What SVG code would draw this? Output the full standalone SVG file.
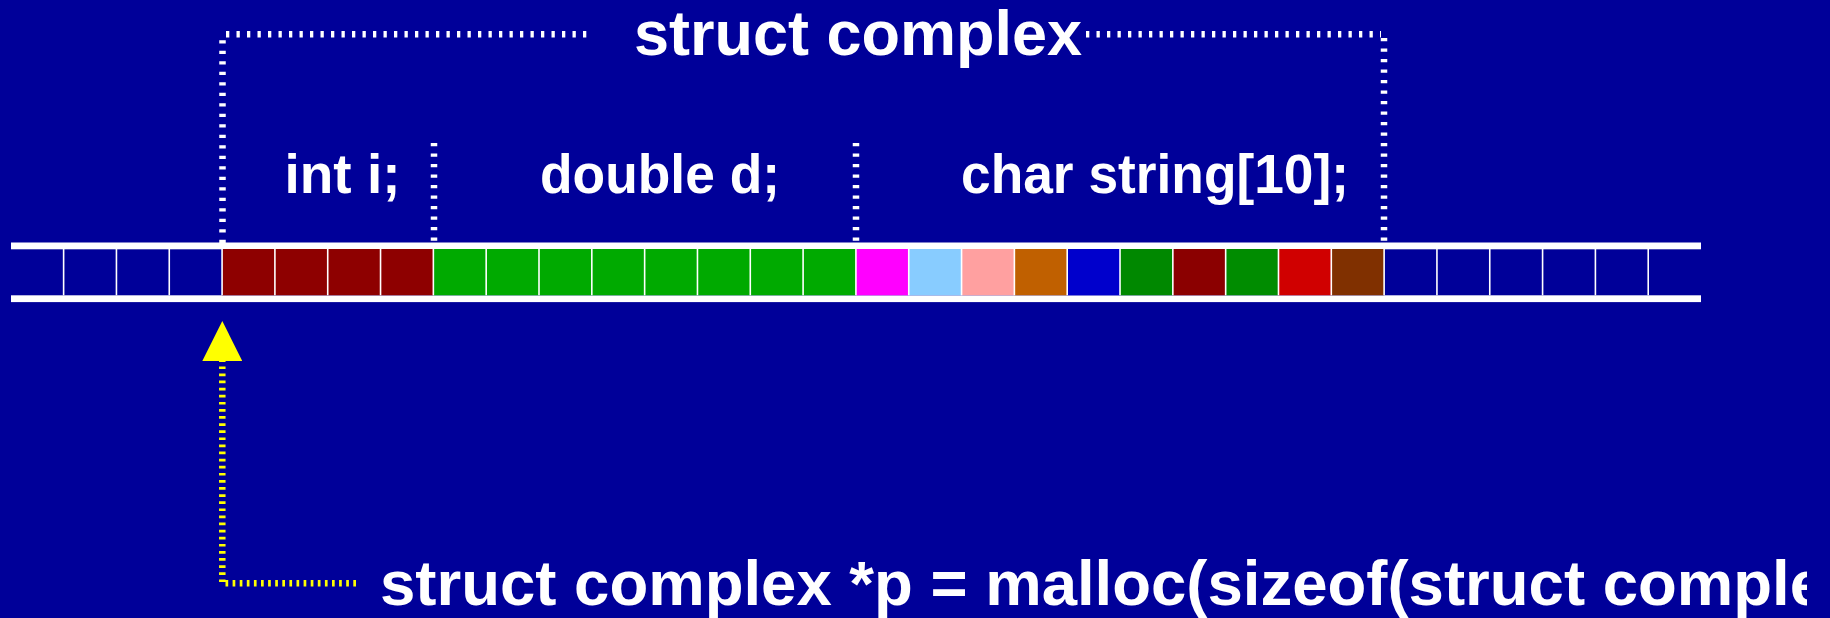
<svg xmlns="http://www.w3.org/2000/svg" width="1830" height="618" viewBox="0 0 1830 618">
  <style>
    .txt { font-family: "Liberation Sans", Arial, Helvetica, sans-serif; font-weight: bold; fill: #ffffff; }
    .title { font-size: 63px; }
    .field { font-size: 55px; }
    .code { font-size: 63.5px; }
    .bar { fill: #ffffff; }
    .sep { stroke: #ffffff; stroke-width: 1.6; }
    .wdot { fill: none; stroke: #ffffff; stroke-width: 6.5; stroke-dasharray: 3.3 7.2; }
    .ydot { fill: none; stroke: #ffff00; stroke-width: 6.5; stroke-dasharray: 2.7 4.4; }
  </style>
  <defs>
    <marker id="yhead" markerUnits="userSpaceOnUse" markerWidth="40" markerHeight="40" refX="0" refY="20" orient="auto" viewBox="0 0 40 40">
      <path d="M0,0 L40,20 L0,40 Z" fill="#ffff00"/>
    </marker>
    <clipPath id="clipCode">
      <rect x="0" y="500" width="1807" height="118"/>
    </clipPath>
  </defs>
  <rect x="0" y="0" width="1830" height="618" fill="#000099"/>

  <g id="memory">
    <rect class="bar" x="11" y="242.5" width="1690" height="6.8"/>
    <rect class="bar" x="11" y="295.3" width="1690" height="6.8"/>
    <g id="int-cells" fill="#8e0000">
      <rect x="222.08" y="249" width="211.28" height="46.3"/>
    </g>
    <g id="double-cells" fill="#00aa00">
      <rect x="433.36" y="249" width="422.56" height="46.3"/>
    </g>
    <g id="char-cells">
      <rect x="855.92" y="249" width="52.82" height="46.3" fill="#ff00ff"/>
      <rect x="908.74" y="249" width="52.82" height="46.3" fill="#88ccff"/>
      <rect x="961.56" y="249" width="52.82" height="46.3" fill="#ffa0a0"/>
      <rect x="1014.38" y="249" width="52.82" height="46.3" fill="#c06000"/>
      <rect x="1067.2" y="249" width="52.82" height="46.3" fill="#0000cc"/>
      <rect x="1120.02" y="249" width="52.82" height="46.3" fill="#008800"/>
      <rect x="1172.84" y="249" width="52.82" height="46.3" fill="#8b0000"/>
      <rect x="1225.66" y="249" width="52.82" height="46.3" fill="#008c00"/>
      <rect x="1278.48" y="249" width="52.82" height="46.3" fill="#d00000"/>
      <rect x="1331.3" y="249" width="52.82" height="46.3" fill="#803000"/>
    </g>
    <g id="separators" class="sep">
      <line x1="63.62" y1="249" x2="63.62" y2="295.3"/>
      <line x1="116.44" y1="249" x2="116.44" y2="295.3"/>
      <line x1="169.26" y1="249" x2="169.26" y2="295.3"/>
      <line x1="222.08" y1="249" x2="222.08" y2="295.3"/>
      <line x1="274.9" y1="249" x2="274.9" y2="295.3"/>
      <line x1="327.72" y1="249" x2="327.72" y2="295.3"/>
      <line x1="380.54" y1="249" x2="380.54" y2="295.3"/>
      <line x1="433.36" y1="249" x2="433.36" y2="295.3"/>
      <line x1="486.18" y1="249" x2="486.18" y2="295.3"/>
      <line x1="539" y1="249" x2="539" y2="295.3"/>
      <line x1="591.82" y1="249" x2="591.82" y2="295.3"/>
      <line x1="644.64" y1="249" x2="644.64" y2="295.3"/>
      <line x1="697.46" y1="249" x2="697.46" y2="295.3"/>
      <line x1="750.28" y1="249" x2="750.28" y2="295.3"/>
      <line x1="803.1" y1="249" x2="803.1" y2="295.3"/>
      <line x1="855.92" y1="249" x2="855.92" y2="295.3"/>
      <line x1="908.74" y1="249" x2="908.74" y2="295.3"/>
      <line x1="961.56" y1="249" x2="961.56" y2="295.3"/>
      <line x1="1014.38" y1="249" x2="1014.38" y2="295.3"/>
      <line x1="1067.2" y1="249" x2="1067.2" y2="295.3"/>
      <line x1="1120.02" y1="249" x2="1120.02" y2="295.3"/>
      <line x1="1172.84" y1="249" x2="1172.84" y2="295.3"/>
      <line x1="1225.66" y1="249" x2="1225.66" y2="295.3"/>
      <line x1="1278.48" y1="249" x2="1278.48" y2="295.3"/>
      <line x1="1331.3" y1="249" x2="1331.3" y2="295.3"/>
      <line x1="1384.12" y1="249" x2="1384.12" y2="295.3"/>
      <line x1="1436.94" y1="249" x2="1436.94" y2="295.3"/>
      <line x1="1489.76" y1="249" x2="1489.76" y2="295.3"/>
      <line x1="1542.58" y1="249" x2="1542.58" y2="295.3"/>
      <line x1="1595.4" y1="249" x2="1595.4" y2="295.3"/>
      <line x1="1648.22" y1="249" x2="1648.22" y2="295.3"/>
    </g>
  </g>

  <g id="title">
    <text class="txt title" x="634" y="55">struct complex</text>
  </g>
  <g id="label-int">
    <text class="txt field" x="284.5" y="193" textLength="116" lengthAdjust="spacingAndGlyphs">int i;</text>
  </g>
  <g id="label-double">
    <text class="txt field" x="540" y="193" textLength="240" lengthAdjust="spacingAndGlyphs">double d;</text>
  </g>
  <g id="label-char">
    <text class="txt field" x="961" y="193" textLength="388" lengthAdjust="spacingAndGlyphs">char string[10];</text>
  </g>
  <g id="code">
    <text class="txt code" x="380" y="605" clip-path="url(#clipCode)">struct complex *p = malloc(sizeof(struct comple</text>
  </g>

  <g id="connectors">
    <line class="wdot" x1="222.5" y1="243" x2="222.5" y2="38"/>
    <line class="wdot" x1="226" y1="34.3" x2="590" y2="34.3"/>
    <line class="wdot" x1="1086" y1="34.3" x2="1381" y2="34.3"/>
    <line class="wdot" x1="1384" y1="38" x2="1384" y2="243"/>
    <line class="wdot" x1="434" y1="143" x2="434" y2="243"/>
    <line class="wdot" x1="856" y1="143" x2="856" y2="243"/>
    <path class="ydot" d="M356,583.3 H222.3 V361" marker-end="url(#yhead)"/>
  </g>
</svg>
